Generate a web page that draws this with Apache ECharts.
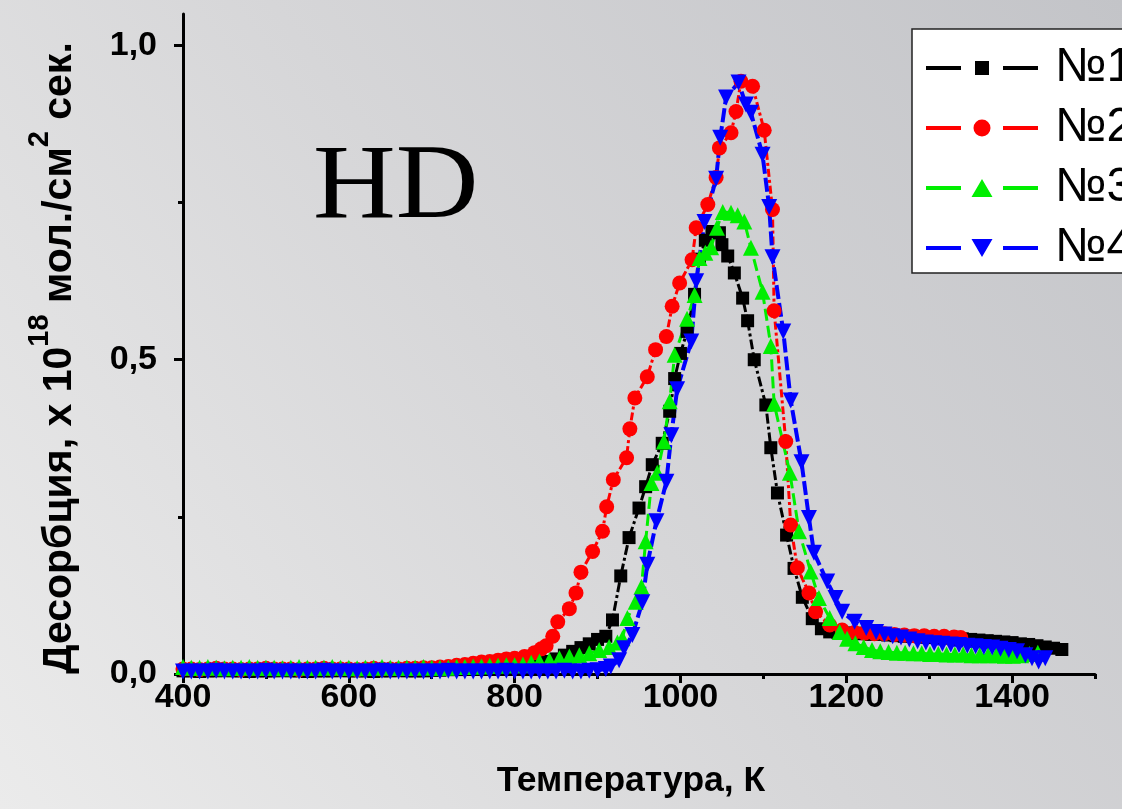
<!DOCTYPE html>
<html>
<head>
<meta charset="utf-8">
<script src="https://cdn.jsdelivr.net/npm/echarts@6/dist/echarts.min.js"></script>
<style>
html,body{margin:0;padding:0;}
#chart{width:1122px;height:809px;}
</style>
</head>
<body>
<div id="chart"></div>
<script>
// ---- data (temperature K, desorption x1e18) ----
const tempsN1 = [400,410,420,430,440,450,460,470,480,490,500,510,520,530,540,550,560,570,580,590,600,610,620,630,640,650,660,670,680,690,700,710,720,730,740,750,760,770,780,790,800,810,820,830,
  840,850,860,870,880,890,900,910,918,928,938,950,958,966,978,987,993,1000,1008,1017,1023,1030,1038,1047,1050,1057,1065,1075,1081,1089,1103,1109,1117,1128,1137,1147,1159,1170,1180,1190,
  1200,1210,1220,1230,1240,1250,1260,1270,1280,1290,1300,1310,1320,1330,1340,1350,1360,1370,1380,1390,1400,1410,1420,1430,1440,1450,1460];
const valsN1 = [0.005,0.005,0.004,0.005,0.005,0.006,0.005,0.005,0.004,0.005,0.005,0.005,0.006,0.005,0.005,0.004,0.005,0.005,0.005,0.006,0.005,0.005,0.005,0.004,0.005,0.005,0.006,0.005,0.005,0.005,0.006,0.006,0.007,0.007,0.008,0.008,0.009,0.010,0.011,0.012,0.013,0.014,0.016,0.018,
  0.020,0.024,0.030,0.036,0.042,0.048,0.055,0.060,0.086,0.156,0.217,0.264,0.298,0.333,0.367,0.418,0.470,0.510,0.545,0.604,0.660,0.690,0.704,0.702,0.683,0.665,0.638,0.598,0.562,0.500,0.428,0.360,0.288,0.221,0.168,0.122,0.088,0.072,0.067,0.066,
  0.065,0.065,0.064,0.063,0.063,0.062,0.061,0.060,0.060,0.059,0.058,0.058,0.057,0.056,0.056,0.055,0.054,0.053,0.052,0.051,0.050,0.048,0.047,0.045,0.043,0.041,0.039];

const tempsN2 = [400,410,420,430,440,450,460,470,480,490,500,510,520,530,540,550,560,570,580,590,600,610,620,630,640,650,660,670,680,690,700,
  710,720,730,740,750,760,770,780,790,800,812,824,832,838,846,852,866,874,880,894,906,911,919,935,939,945,960,970,983,990,999,1014,1019,1033,1043,1047,1061,1067,1073,1087,1101,1111,1113,1127,1133,1141,1155,1163,1180,1195,
  1210,1222,1234,1246,1258,1270,1282,1294,1306,1318,1330,1338];
const valsN2 = [0.008,0.008,0.007,0.008,0.009,0.008,0.008,0.007,0.008,0.008,0.009,0.008,0.008,0.008,0.007,0.008,0.008,0.009,0.008,0.008,0.008,0.007,0.008,0.009,0.008,0.008,0.008,0.009,0.009,0.010,0.010,
  0.011,0.012,0.014,0.015,0.017,0.019,0.020,0.022,0.024,0.025,0.028,0.034,0.040,0.045,0.060,0.083,0.104,0.129,0.162,0.195,0.227,0.266,0.309,0.344,0.390,0.439,0.473,0.516,0.537,0.585,0.622,0.659,0.710,0.747,0.790,0.837,0.861,0.895,0.943,0.935,0.865,0.739,0.578,0.370,0.237,0.169,0.129,0.099,0.078,0.070,
  0.066,0.065,0.064,0.064,0.063,0.062,0.061,0.061,0.060,0.060,0.059,0.058];

const tempsN3 = [400,410,420,430,440,450,460,470,480,490,500,510,520,530,540,550,560,570,580,590,600,610,620,630,640,650,660,670,680,690,700,710,720,730,740,750,760,770,780,790,800,
  810,820,830,842,854,866,878,890,902,914,924,930,936,946,953,958,965,972,980,987,993,1008,1017,1023,1030,1037,1044,1051,1061,1069,1077,1085,1099,1109,1113,1132,1143,1157,1167,1180,1192,1201,1211,1221,1231,
  1241,1251,1261,1271,1281,1291,1301,1311,1321,1331,1341,1351,1361,1371,1381,1391,1401,1411,1421,1431];
const valsN3 = [0.011,0.010,0.010,0.011,0.010,0.009,0.010,0.010,0.011,0.010,0.010,0.010,0.009,0.010,0.011,0.010,0.010,0.010,0.011,0.010,0.010,0.009,0.010,0.010,0.011,0.010,0.010,0.010,0.010,0.011,0.010,0.010,0.010,0.011,0.011,0.012,0.012,0.013,0.013,0.014,0.014,
  0.015,0.018,0.020,0.022,0.025,0.028,0.030,0.033,0.038,0.043,0.050,0.057,0.089,0.115,0.139,0.211,0.304,0.320,0.370,0.434,0.508,0.565,0.603,0.662,0.670,0.679,0.710,0.735,0.734,0.730,0.720,0.678,0.608,0.522,0.430,0.320,0.227,0.163,0.121,0.089,0.067,0.056,0.049,0.043,0.038,
  0.036,0.035,0.034,0.034,0.033,0.033,0.032,0.032,0.031,0.031,0.031,0.030,0.030,0.030,0.030,0.029,0.029,0.030,0.032,0.034];

const tempsN4 = [400,410,420,430,440,450,460,470,480,490,500,510,520,530,540,550,560,570,580,590,600,610,620,630,640,650,660,670,680,690,700,710,720,730,740,750,760,770,780,790,800,810,820,830,840,850,860,870,880,890,900,910,
  916,926,932,942,954,960,971,983,989,996,1013,1019,1029,1043,1048,1055,1070,1079,1085,1099,1107,1111,1124,1133,1146,1155,1161,1177,1187,1195,1210,1224,1236,
  1246,1256,1266,1276,1286,1296,1306,1316,1326,1336,1346,1356,1366,1376,1386,1396,1406,1416,1424,1432,1440];
const valsN4 = [0.004,0.004,0.004,0.004,0.005,0.004,0.004,0.004,0.004,0.004,0.005,0.004,0.004,0.004,0.004,0.004,0.004,0.005,0.004,0.004,0.004,0.004,0.004,0.004,0.005,0.004,0.004,0.004,0.004,0.004,0.004,0.004,0.005,0.004,0.004,0.004,0.004,0.004,0.004,0.005,0.004,0.004,0.004,0.004,0.004,0.004,0.005,0.004,0.004,0.005,0.006,0.008,
  0.012,0.022,0.041,0.062,0.114,0.174,0.243,0.306,0.380,0.453,0.529,0.625,0.719,0.788,0.853,0.917,0.941,0.906,0.893,0.826,0.743,0.663,0.545,0.435,0.337,0.248,0.193,0.147,0.121,0.099,0.083,0.073,0.067,
  0.063,0.060,0.058,0.055,0.052,0.050,0.049,0.048,0.047,0.046,0.045,0.044,0.043,0.042,0.040,0.038,0.036,0.030,0.025,0.020,0.025];

const seriesNames = ['№1','№2','№3','№4'];
const seriesColors = ['#000000','#ff0000','#00ee00','#0000ff'];
const xMajorTicks = [400,600,800,1000,1200,1400];
const xMinorTicks = [500,700,900,1100,1300,1500];
const yMajorTicks = [0,0.5,1.0];
const yMinorTicks = [0.25,0.75];

function zip(t, v){ return t.map((x,i)=>[x, v[i]]); }

// legend icons: line - marker - line (bbox fixed with lone move points)
const B = 'M0,0 M124,20 ';
const L = 'M0,8 L35,8 L35,12 L0,12 Z M77,8 L112,8 L112,12 L77,12 Z ';
const icons = [
  'path://' + B + L + 'M49,3 L63,3 L63,17 L49,17 Z',
  'path://' + B + L + 'M47.5,10 A8.5,8.5 0 1,0 64.5,10 A8.5,8.5 0 1,0 47.5,10 Z',
  'path://' + B + L + 'M56,1 L66.5,19 L45.5,19 Z',
  'path://' + B + L + 'M45.5,1 L66.5,1 L56,19 Z'
];

const chart = echarts.init(document.getElementById('chart'), null, {renderer:'canvas'});
const FONT = 'Liberation Sans';
const option = {
  animation: false,
  backgroundColor: new echarts.graphic.LinearGradient(0, 1, 1, 0, [
    {offset:0, color:'#ebebeb'}, {offset:0.5, color:'#d6d6d8'}, {offset:1, color:'#c3c4c8'}
  ]),
  grid: {left:183, right:27, top:14, bottom:135, containLabel:false},
  graphic: [{
    type:'text', x:313, y:189, scaleX:1.08, z:1,
    style:{text:'HD', fontSize:106, fontFamily:'Liberation Serif', fill:'#000', verticalAlign:'middle',
      shadowColor:'rgba(255,255,255,0.95)', shadowBlur:5, shadowOffsetX:3, shadowOffsetY:3}
  }],
  legend: {
    orient:'vertical', left:912, top:29, padding:[15,30,1,14], itemGap:12,
    itemWidth:124, itemHeight:20, backgroundColor:'#ffffff', borderColor:'#222', borderWidth:1.5,
    textStyle:{fontSize:48, fontFamily:FONT, color:'#000', lineHeight:48},
    data: seriesNames.map((n,i)=>({name:n, icon: icons[i]}))
  },
  xAxis: [{
    type:'value', min:400, max:1500, interval:200,
    name:'Температура, К', nameLocation:'middle', nameGap:89,
    nameTextStyle:{fontSize:35.5, fontWeight:'bold', fontFamily:FONT, color:'#000', padding:[0,16,0,0]},
    axisLine:{lineStyle:{color:'#000', width:3}},
    axisTick:{length:9, lineStyle:{color:'#000', width:3}, customValues:xMajorTicks},
    axisLabel:{customValues:xMajorTicks, fontSize:34, fontWeight:'bold', fontFamily:FONT, color:'#000', margin:7,
      formatter: v => String(v)},
    splitLine:{show:false}
  },{
    type:'value', min:400, max:1500, position:'bottom',
    axisLine:{show:false},
    axisTick:{length:5, lineStyle:{color:'#000', width:3}, customValues:xMinorTicks},
    axisLabel:{show:false}, splitLine:{show:false}
  }],
  yAxis: [{
    type:'value', min:0, max:1.05, interval:0.5,
    name:'Десорбция, x 10{sup|18} мол./см{sup|2} сек.', nameLocation:'middle', nameGap:89,
    nameTextStyle:{fontSize:41, lineHeight:69, fontWeight:'bold', fontFamily:FONT, color:'#000', padding:[0,28,0,0],
      rich:{sup:{fontSize:29, fontWeight:'bold', fontFamily:FONT, color:'#000', verticalAlign:'top'}}},
    axisLine:{lineStyle:{color:'#000', width:3}},
    axisTick:{length:9, lineStyle:{color:'#000', width:3}, customValues:yMajorTicks},
    axisLabel:{customValues:yMajorTicks, fontSize:34, fontWeight:'bold', fontFamily:FONT, color:'#000', margin:26,
      formatter: v => v.toFixed(1).replace('.', ',')},
    splitLine:{show:false}
  },{
    type:'value', min:0, max:1.05, position:'left',
    axisLine:{show:false},
    axisTick:{length:5, lineStyle:{color:'#000', width:3}, customValues:yMinorTicks},
    axisLabel:{show:false}, splitLine:{show:false}
  }],
  series: [
    {name:seriesNames[0], type:'line', data:zip(tempsN1, valsN1), symbol:'rect', symbolSize:13, showAllSymbol:true,
      itemStyle:{color:seriesColors[0]}, lineStyle:{color:seriesColors[0], width:3, type:[10,3,3,3]}},
    {name:seriesNames[1], type:'line', data:zip(tempsN2, valsN2), symbol:'circle', symbolSize:15, showAllSymbol:true,
      itemStyle:{color:seriesColors[1]}, lineStyle:{color:seriesColors[1], width:3, type:[8,3,3,3]}},
    {name:seriesNames[2], type:'line', data:zip(tempsN3, valsN3), symbol:'triangle', symbolSize:16, showAllSymbol:true,
      itemStyle:{color:seriesColors[2]}, lineStyle:{color:seriesColors[2], width:3, type:[12,5]}},
    {name:seriesNames[3], type:'line', data:zip(tempsN4, valsN4), symbol:'triangle', symbolRotate:180, symbolSize:16, showAllSymbol:true,
      itemStyle:{color:seriesColors[3]}, lineStyle:{color:seriesColors[3], width:4, type:[14,4]}}
  ]
};
chart.setOption(option);
</script>
</body>
</html>
